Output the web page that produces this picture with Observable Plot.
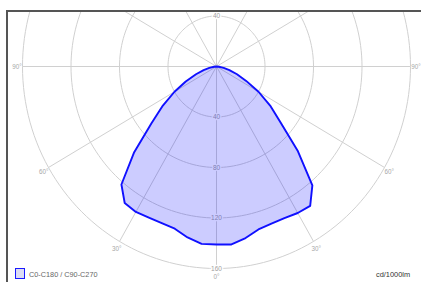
<!DOCTYPE html>
<html><head><meta charset="utf-8">
<script src="https://cdn.jsdelivr.net/npm/d3@7"></script>
<script src="https://cdn.jsdelivr.net/npm/@observablehq/plot@0.6"></script>
<style>
body{margin:0;background:#fff;}
#wrap{position:relative;width:421px;height:282px;overflow:hidden;font-family:"Liberation Sans",Arial,sans-serif;background:#fff;}
#wrap svg{display:block;position:absolute;left:0;top:0;}
#border{position:absolute;left:6px;top:10px;width:430px;height:290px;border-top:2.6px solid #555;border-left:2.3px solid #555;box-sizing:border-box;}
#legsq{position:absolute;left:15px;top:268px;width:10px;height:11px;box-sizing:border-box;border:1.6px solid #1a1aff;background:#dcdcf4;}
#legtxt{position:absolute;left:29px;top:270.5px;font-size:7.3px;color:#666;white-space:nowrap;line-height:1;}
#unit{position:absolute;left:376px;top:270.5px;font-size:7.4px;color:#333;white-space:nowrap;line-height:1;}
</style></head><body>
<div id="wrap"></div>
<script>
// Luminous intensity (cd/1000lm), gamma angle from nadir (negative = left half)
const gammaAngles = [-90,-85,-80,-75,-70,-65,-60,-55,-50,-45,-40,-35,-30,-25,-20,-15,-10,-5,0,5,10,15,20,25,30,35,40,45,50,55,60,65,70,75,80,85,90];
const intensity   = [0,2,6,11,18,28,40,54,70,96,122,132,133,132,132,133,137.5,141,141,141.5,138,133.6,132.5,132.5,134,134.7,123,95,69,54,40,27,18,11,6,2,0];
const ringValues = [40, 80, 120, 160];
const spokeAngles = [0,30,60,90,120,150,180,210,240,270,300,330];
const angleLabelValues = [-90,-60,-30,0,30,60,90];
const angleLabelTexts = ["90°","60°","30°","0°","30°","60°","90°"];
const legendLabel = "C0-C180 / C90-C270";
const unitLabel = "cd/1000lm";

const W = 421, H = 282;
const cx = 216, cy = 66, kx = 1.2125, ky = 1.2625;
const mL = 7.2, mT = 11.3;
const yMin = (mT - cy) / ky;
const rad = d => d * Math.PI / 180;
const pu = (g, r) => r * Math.sin(rad(g));
const pv = (g, r) => r * Math.cos(rad(g));

const curve = gammaAngles.map((g, i) => ({u: pu(g, intensity[i]), v: pv(g, intensity[i])}));
curve.push(curve[0]);

const ringPts = [];
for (const r of ringValues) for (let a = 0; a <= 360; a += 2) ringPts.push({r, u: pu(a, r), v: pv(a, r)});
const spokes = spokeAngles.map(a => ({x1: 0, y1: 0, x2: pu(a, 160), y2: pv(a, 160)}));
const ringLabels = [];
for (const r of ringValues) { ringLabels.push({t: String(r), u: 0, v: r}); if (-r + 4 > yMin) ringLabels.push({t: String(r), u: 0, v: -r}); }
const angLabels = angleLabelValues.map((g, i) => ({t: angleLabelTexts[i], u: pu(g, 164.5), v: pv(g, 167)}));

const chart = Plot.plot({
  width: W, height: H,
  marginLeft: mL, marginTop: mT, marginRight: 0, marginBottom: 0,
  x: {type: "linear", domain: [(mL - cx) / kx, (W - cx) / kx], range: [mL, W], axis: null},
  y: {type: "linear", domain: [yMin, (H - cy) / ky], range: [mT, H], axis: null},
  style: {background: "transparent", fontFamily: "Liberation Sans, Arial, sans-serif"},
  marks: [
    Plot.line(ringPts, {x: "u", y: "v", z: "r", stroke: "#d0d0d0", strokeWidth: 1, clip: true}),
    Plot.link(spokes, {x1: "x1", y1: "y1", x2: "x2", y2: "y2", stroke: "#d0d0d0", strokeWidth: 1, clip: true}),
    Plot.text(ringLabels, {x: "u", y: "v", text: "t", fill: "#a0a0a0", stroke: "white", strokeWidth: 2.5, fontSize: 6.5}),
    Plot.text(angLabels, {x: "u", y: "v", text: "t", fill: "#a8a8a8", fontSize: 6.3}),
    Plot.line(curve, {x: "u", y: "v", fill: "#0000ff", fillOpacity: 0.2, stroke: "none", clip: true}),
    Plot.line(curve, {x: "u", y: "v", stroke: "#1010ff", strokeWidth: 1.9, strokeLinejoin: "round", clip: true})
  ]
});
const wrap = document.getElementById("wrap");
wrap.appendChild(chart);
wrap.insertAdjacentHTML("beforeend",
  `<div id="border"></div><div id="legsq"></div><div id="legtxt">${legendLabel}</div><div id="unit">${unitLabel}</div>`);
</script>
</body></html>
